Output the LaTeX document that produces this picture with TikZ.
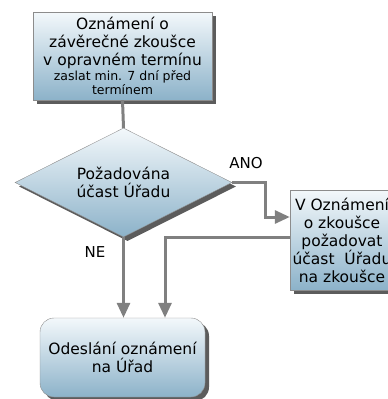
\documentclass[tikz,border=0pt]{standalone}
\usepackage{fontspec}
\setmainfont{DejaVu Sans}
\usepackage{tikz}
\usetikzlibrary{calc,shadows,shapes,arrows.meta}
\usetikzlibrary{positioning}
\definecolor{boxtop}{HTML}{F3F8FB}
\definecolor{boxbot}{HTML}{8CB2C9}
\definecolor{linegray}{HTML}{808080}

\begin{document}
\begin{tikzpicture}[x=1pt,y=-1pt,
		box/.style={draw=gray!90, top color=boxtop, bottom color=boxbot, align=center, inner sep=0pt,
			font=\fontsize{15.5}{18}\selectfont,
			drop shadow={shadow xshift=4pt,shadow yshift=-4pt,fill=black!75,opacity=0.85}},
		decide/.style={box, diamond, aspect=2},
		conn/.style={draw=linegray, line width=3pt},
		tip/.style={-{Triangle[width=13pt,length=15pt]}},
		lbl/.style={font=\fontsize{15}{18}\selectfont}]
			
			\useasboundingbox (0,0) rectangle (388,399);
			
			\node[box, minimum width=179, minimum height=88] (ozn) at (122.5,56)
				{Oznámení o\\závěrečné zkoušce\\v opravném termínu\\[-3pt]{\fontsize{12.5}{13}\selectfont zaslat min. 7 dní před}\\[-4pt]{\fontsize{12.5}{13}\selectfont termínem}};
			
			\node[decide, minimum width=217, minimum height=109] (ucast) at (123.5,182.5) {Požadována\\účast Úřadu};
			
			\node[box, minimum width=104, minimum height=100] (pozad) at (342,240)
				{V Oznámení\\o zkoušce\\požadovat\\účast~ Úřadu\\na zkoušce};
			
			\node[box, rounded corners=14pt, minimum width=165, minimum height=79] (odesl) at (122.5,357.5) {Odeslání oznámení\\na Úřad};
			
			
			\draw[conn] (ozn.south) -- (ucast.north);
			\draw[conn,tip] (ucast.east) -- ++(33,0) |- ($(pozad.west)+(0,-23)$);
			\draw[conn,tip] (ucast.south) -- (ucast.south |- odesl.north);
			\draw[conn,tip] ($(pozad.west)+(0,-3)$) -| ($(odesl.north)+(42.5,0)$);
			
			\node[lbl] (ano) at (246,163) {ANO};
			\node[lbl] (ne) at (95,252) {NE};
			
		\end{tikzpicture}
\end{document}
